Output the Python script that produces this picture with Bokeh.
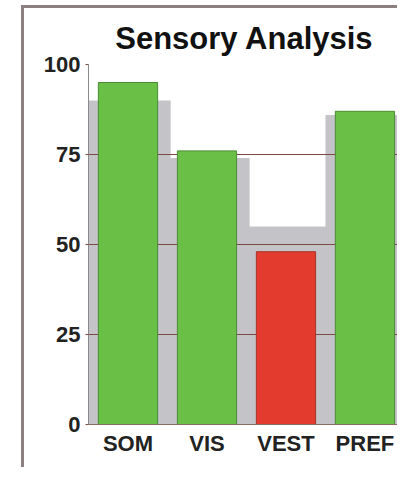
from bokeh.plotting import figure
from bokeh.models import ColumnDataSource, FixedTicker, Range1d
from bokeh.transform import dodge
from bokeh.embed import file_html
from bokeh.resources import INLINE

# --- data ---
categories = ["SOM", "VIS", "VEST", "PREF"]
scores = [95, 76, 48, 87]
reference = [90, 74, 55, 86]
bar_colors = ["#6abf47", "#6abf47", "#e33b2e", "#6abf47"]
line_colors = ["#4a8a35", "#4a8a35", "#a8352b", "#4a8a35"]
y_ticks = [0, 25, 50, 75, 100]

xs = list(range(len(categories)))
src = ColumnDataSource(dict(x=xs, cat=categories, score=scores, ref=reference,
                            color=bar_colors, lc=line_colors))

# the figure sits inside an outer frame (left and top borders only)
W, H = 376, 462
p = figure(width=W, height=H, output_backend="svg", toolbar_location=None,
           x_range=Range1d(-0.5, 3.45), y_range=Range1d(0, 100),
           min_border_left=64, min_border_right=0, min_border_top=56,
           min_border_bottom=46, title="Sensory Analysis",
           styles={"border-left": "3px solid #8c8080",
                   "border-top": "3px solid #8c8080",
                   "margin-left": "21px", "margin-top": "5px"})
p.background_fill_color = "#ffffff"

p.title.align = "center"
p.title.text_font = "Liberation Sans"
p.title.text_font_size = "31px"
p.title.text_font_style = "bold"
p.title.text_color = "#111111"
p.title.standoff = 18

# grey reference bars (behind the grid)
p.vbar(x=dodge("x", 0.02), top="ref", width=1.04, source=src,
       fill_color="#c4c3c8", line_color=None, level="image")
# score bars
p.vbar(x="x", top="score", width=0.75, source=src, fill_color="color",
       line_color="lc", line_width=1)

p.xgrid.grid_line_color = None
p.ygrid.grid_line_color = "#7a4a44"
p.ygrid.grid_line_width = 1
p.ygrid.ticker = FixedTicker(ticks=y_ticks)

p.outline_line_color = None

xa = p.xaxis[0]
xa.ticker = FixedTicker(ticks=xs)
xa.major_label_overrides = {i: c for i, c in zip(xs, categories)}
xa.major_tick_line_color = None
xa.minor_tick_line_color = None
xa.axis_line_color = "#8c6a64"
xa.major_label_text_font = "Liberation Sans"
xa.major_label_text_font_size = "22px"
xa.major_label_text_font_style = "bold"
xa.major_label_text_color = "#222222"
xa.major_label_standoff = 0

ya = p.yaxis[0]
ya.ticker = FixedTicker(ticks=y_ticks)
ya.minor_tick_line_color = None
ya.major_tick_in = 0
ya.major_tick_out = 3
ya.major_tick_line_color = "#7a4a44"
ya.axis_line_color = "#8a8a8a"
ya.major_label_text_font = "Liberation Sans"
ya.major_label_text_font_size = "22px"
ya.major_label_text_font_style = "bold"
ya.major_label_text_color = "#222222"
ya.major_label_standoff = 5

open("out.html", "w").write(file_html(p, INLINE))
